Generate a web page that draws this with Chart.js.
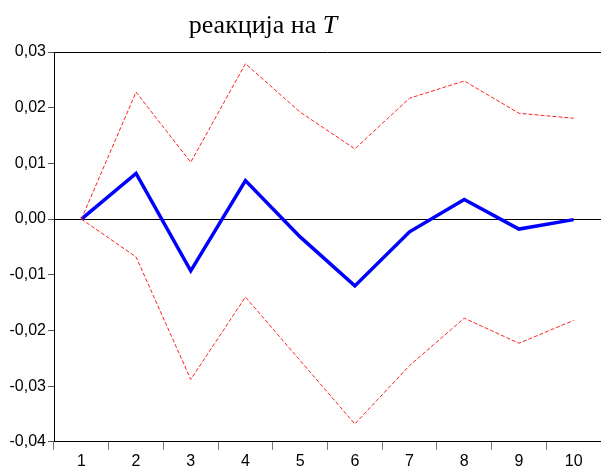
<!DOCTYPE html>
<html>
<head>
<meta charset="utf-8">
<script src="https://cdn.jsdelivr.net/npm/chart.js@4"></script>
<style>
  html, body { margin: 0; padding: 0; background: #fff; }
  #wrap { width: 601px; height: 473px; }
</style>
</head>
<body>
<div id="wrap"><canvas id="chart1"></canvas></div>
<script>
var periods = ['1', '2', '3', '4', '5', '6', '7', '8', '9', '10'];
var response = [0, 0.0082, -0.0093, 0.0069, -0.0032, -0.0120, -0.0023, 0.0035, -0.0018, -0.0001];
var upperBand = [0, 0.0228, 0.0102, 0.0279, 0.0192, 0.0126, 0.0217, 0.0248, 0.0190, 0.0181];
var lowerBand = [0, -0.0068, -0.0288, -0.0140, -0.0254, -0.0368, -0.0263, -0.0178, -0.0223, -0.0182];

// title with italic T, plus top border of the frame
var titleAndFrame = {
  id: 'titleAndFrame',
  afterDraw: function(chart) {
    var ctx = chart.ctx;
    var area = chart.chartArea;
    ctx.save();
    ctx.strokeStyle = '#000';
    ctx.lineWidth = 1;
    ctx.beginPath();
    ctx.moveTo(area.left, area.top + 0.5);
    ctx.lineTo(area.right, area.top + 0.5);
    ctx.stroke();

    var part1 = 'реакција на ';
    var part2 = 'T';
    ctx.fillStyle = '#000';
    ctx.textBaseline = 'alphabetic';
    ctx.font = '26px "Liberation Serif", "Times New Roman", serif';
    var w1 = ctx.measureText(part1).width;
    ctx.font = 'italic 26px "Liberation Serif", "Times New Roman", serif';
    var w2 = ctx.measureText(part2).width;
    var x = 263 - (w1 + w2) / 2;
    ctx.font = '26px "Liberation Serif", "Times New Roman", serif';
    ctx.fillText(part1, x, 33);
    ctx.font = 'italic 26px "Liberation Serif", "Times New Roman", serif';
    ctx.fillText(part2, x + w1, 33);
    ctx.restore();
  }
};

var chart1 = new Chart(document.getElementById('chart1'), {
  type: 'line',
  data: {
    labels: periods,
    datasets: [
      {
        label: 'upper',
        data: upperBand,
        borderColor: '#ff2020',
        borderWidth: 1,
        borderDash: [4, 2],
        pointRadius: 0,
        tension: 0
      },
      {
        label: 'lower',
        data: lowerBand,
        borderColor: '#ff2020',
        borderWidth: 1,
        borderDash: [4, 2],
        pointRadius: 0,
        tension: 0
      },
      {
        label: 'response',
        data: response,
        borderColor: '#0000ff',
        borderWidth: 3.5,
        pointRadius: 0,
        tension: 0
      }
    ]
  },
  options: {
    responsive: true,
    maintainAspectRatio: false,
    animation: false,
    layout: { padding: { top: 52, right: -2, left: 0, bottom: 0 } },
    plugins: {
      legend: { display: false },
      title: { display: false },
      tooltip: { enabled: false }
    },
    scales: {
      x: {
        offset: true,
        grid: {
          offset: true,
          drawOnChartArea: false,
          tickLength: 8,
          tickColor: '#777'
        },
        border: { color: '#000', width: 1 },
        ticks: {
          color: '#000',
          padding: 2,
          font: { family: '"Liberation Sans", Arial, sans-serif', size: 16 }
        }
      },
      y: {
        min: -0.04,
        max: 0.03,
        afterFit: function(scale) { scale.width = 54; },
        grid: {
          drawOnChartArea: true,
          color: function(c) {
            return (c.tick && Math.abs(c.tick.value) < 1e-9) ? '#000' : 'rgba(0,0,0,0)';
          },
          tickColor: '#555',
          tickLength: 6
        },
        border: { color: '#000', width: 1 },
        ticks: {
          stepSize: 0.01,
          color: '#000',
          padding: 2,
          font: { family: '"Liberation Sans", Arial, sans-serif', size: 16 },
          callback: function(value) {
            var v = Math.abs(value) < 1e-9 ? 0 : value;
            return v.toFixed(2).replace('.', ',');
          }
        }
      }
    }
  },
  plugins: [titleAndFrame]
});
</script>
</body>
</html>
